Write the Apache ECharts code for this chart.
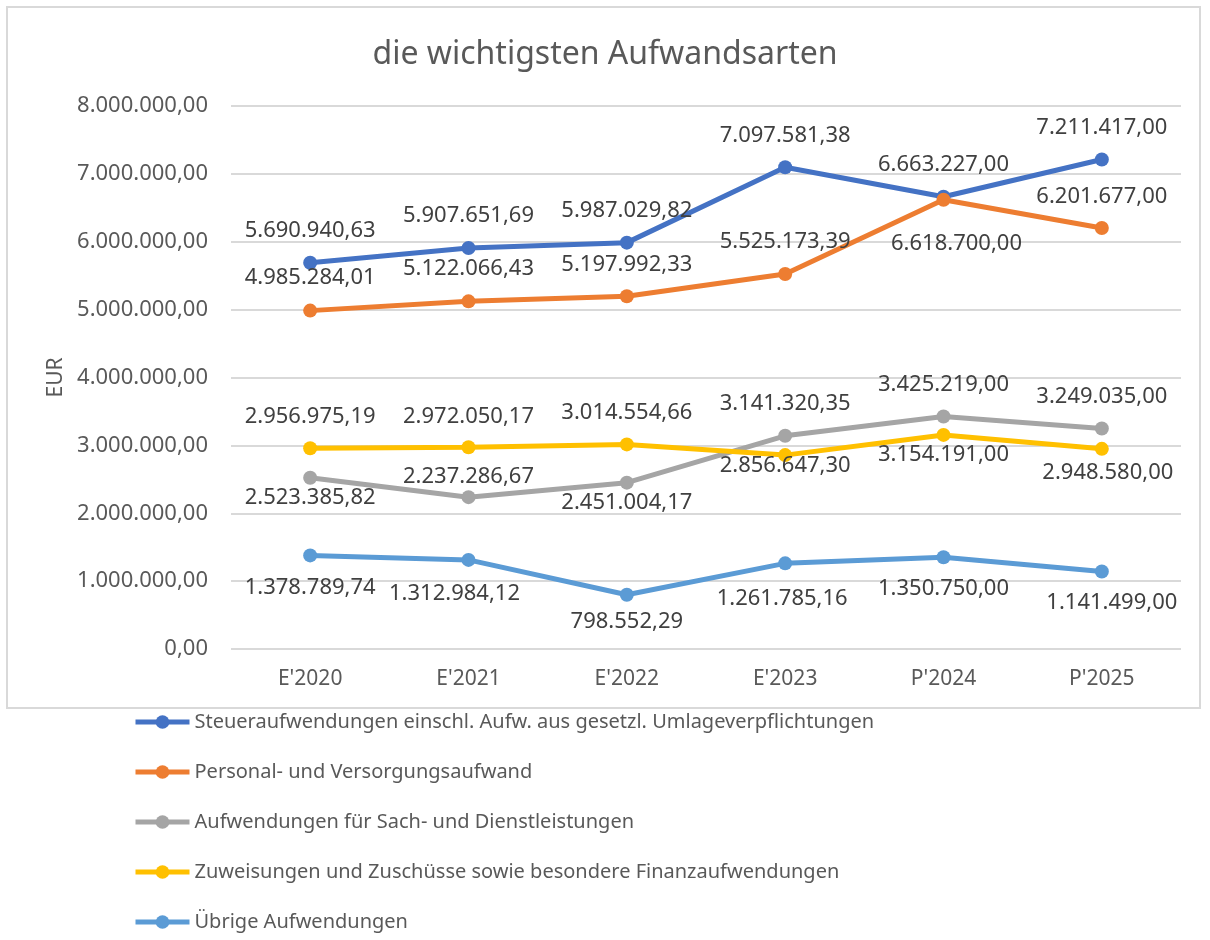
<!DOCTYPE html>
<html>
<head>
<meta charset="utf-8">
<title>die wichtigsten Aufwandsarten</title>
<script src="https://cdn.jsdelivr.net/npm/echarts@6/dist/echarts.min.js"></script>
<style>
  html, body { margin: 0; padding: 0; background: #fff; }
  #chart { width: 1210px; height: 940px; }
</style>
</head>
<body>
<div id="chart"></div>
<script>
// Werte aus der Grafik
var categories = ["E'2020", "E'2021", "E'2022", "E'2023", "P'2024", "P'2025"];

var steuer = [5690940.63, 5907651.69, 5987029.82, 7097581.38, 6663227.00, 7211417.00];
var personal = [4985284.01, 5122066.43, 5197992.33, 5525173.39, 6618700.00, 6201677.00];
var sach = [2523385.82, 2237286.67, 2451004.17, 3141320.35, 3425219.00, 3249035.00];
var zuweisungen = [2956975.19, 2972050.17, 3014554.66, 2856647.30, 3154191.00, 2948580.00];
var uebrige = [1378789.74, 1312984.12, 798552.29, 1261785.16, 1350750.00, 1141499.00];

var seriesNames = [
	'Steueraufwendungen einschl. Aufw. aus gesetzl. Umlageverpflichtungen',
	'Personal- und Versorgungsaufwand',
	'Aufwendungen für Sach- und Dienstleistungen',
	'Zuweisungen und Zuschüsse sowie besondere Finanzaufwendungen',
	'Übrige Aufwendungen'
];
var seriesColors = ['#4472C4', '#ED7D31', '#A5A5A5', '#FFC000', '#5B9BD5'];

// Lage der Datenbeschriftungen (relativ zum Punkt)
var labelOffsets = [
	[[0, -32], [0, -32], [0, -32], [0, -32], [0, -32], [0, -32]],
	[[0, -33], [0, -33], [0, -31], [0, -32], [13, 44], [0, -31]],
	[[0, 20], [0, -20], [0, 20], [0, -32], [0, -32], [0, -32]],
	[[0, -32], [0, -31], [0, -32], [0, 11], [0, 20], [6, 24]],
	[[0, 32], [-14, 34], [0, 27], [-3, 35], [0, 31], [10, 31]]
];

var FONT = '"Noto Sans", sans-serif';

function fmtDE(v) {
	var parts = Number(v).toFixed(2).split('.');
	parts[0] = parts[0].replace(/\B(?=(\d{3})+(?!\d))/g, '.');
	return parts[0] + ',' + parts[1];
}

function makeSeries(idx, values) {
	var data = [];
	for (var i = 0; i < values.length; i++) {
		data.push({
			value : values[i],
			label : { offset : labelOffsets[idx][i] }
		});
	}
	return {
		name : seriesNames[idx],
		type : 'line',
		data : data,
		symbol : 'circle',
		symbolSize : 14,
		color : seriesColors[idx],
		lineStyle : { width : 5, color : seriesColors[idx] },
		itemStyle : { color : seriesColors[idx] },
		label : {
			show : true,
			position : 'inside',
			color : '#404040',
			fontFamily : FONT,
			fontSize : 22,
			formatter : function(p) { return fmtDE(p.value); }
		},
		emphasis : { disabled : true },
		animation : false
	};
}

function genOption() {
	var option = {
		textStyle : { fontFamily : FONT },
		graphic : [ {
			type : 'rect',
			shape : { x : 7, y : 7, width : 1193, height : 701 },
			style : { fill : 'none', stroke : '#d9d9d9', lineWidth : 2 },
			z : -10
		} ],
		title : {
			text : 'die wichtigsten Aufwandsarten',
			left : 'center',
			top : 34,
			textStyle : {
				fontFamily : FONT,
				fontSize : 32,
				fontWeight : 'normal',
				color : '#595959'
			}
		},
		legend : {
			orient : 'vertical',
			left : 133,
			top : 710,
			padding : 0,
			itemWidth : 54,
			itemHeight : 17,
			itemGap : 26,
			data : seriesNames,
			lineStyle : { width : 5 },
			textStyle : {
				fontFamily : FONT,
				fontSize : 20,
				lineHeight : 24,
				color : '#595959'
			}
		},
		grid : {
			left : 231,
			right : 29,
			top : 106,
			bottom : 291
		},
		xAxis : {
			type : 'category',
			data : categories,
			boundaryGap : true,
			axisLine : { show : false },
			axisTick : { show : false },
			axisLabel : {
				fontFamily : FONT,
				fontSize : 21,
				color : '#595959',
				margin : 20
			}
		},
		yAxis : {
			type : 'value',
			min : 0,
			max : 8000000,
			interval : 1000000,
			name : 'EUR',
			nameLocation : 'middle',
			nameGap : 164,
			nameTextStyle : {
				fontFamily : FONT,
				fontSize : 21,
				color : '#595959'
			},
			axisLine : { show : false },
			axisTick : { show : false },
			splitLine : { lineStyle : { color : '#d9d9d9', width : 2 } },
			axisLabel : {
				fontFamily : FONT,
				fontSize : 22,
				color : '#595959',
				margin : 23,
				formatter : function(v) { return fmtDE(v); }
			}
		},
		series : [
			makeSeries(0, steuer),
			makeSeries(1, personal),
			makeSeries(2, sach),
			makeSeries(3, zuweisungen),
			makeSeries(4, uebrige)
		]
	};
	return option;
}

var chart = echarts.init(document.getElementById('chart'));
var option = genOption();
if (option && typeof option === 'object') {
	chart.setOption(option, true);
}
</script>
</body>
</html>
